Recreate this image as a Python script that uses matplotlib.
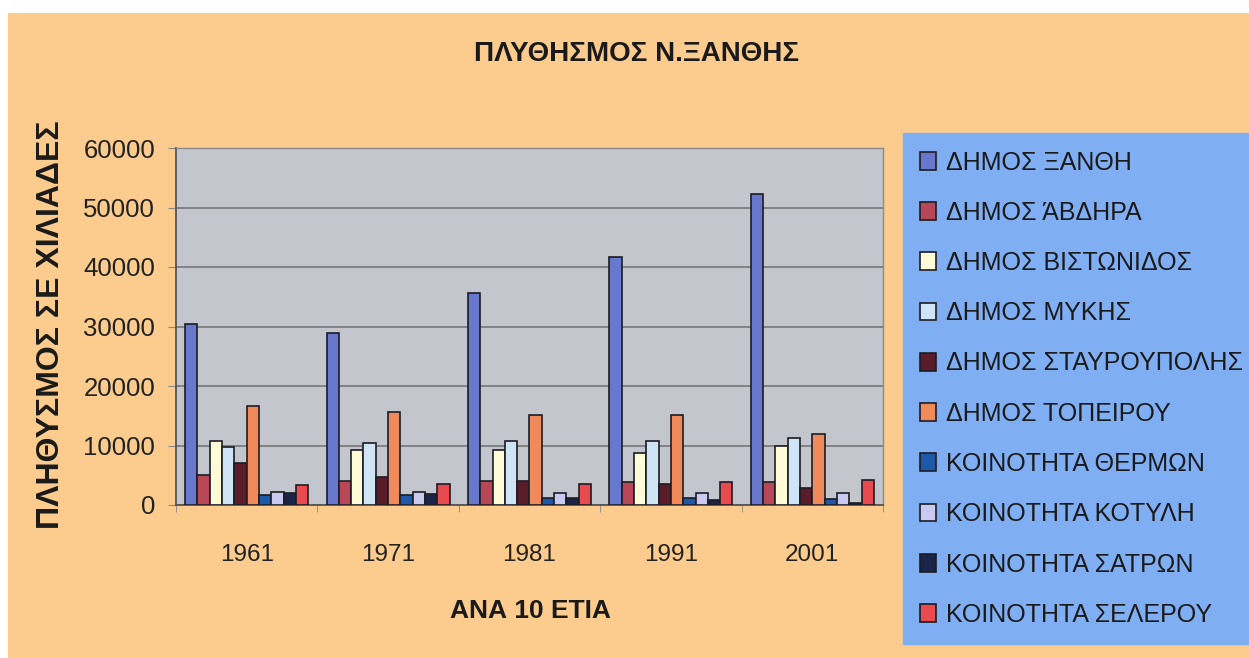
import matplotlib
matplotlib.use("Agg")
import matplotlib.pyplot as plt
import numpy as np
from matplotlib.patches import Rectangle

# ---- data ----
years = ['1961', '1971', '1981', '1991', '2001']
series_names = ['ΔΗΜΟΣ ΞΑΝΘΗ', 'ΔΗΜΟΣ ΆΒΔΗΡΑ', 'ΔΗΜΟΣ ΒΙΣΤΩΝΙΔΟΣ', 'ΔΗΜΟΣ ΜΥΚΗΣ',
                'ΔΗΜΟΣ ΣΤΑΥΡΟΥΠΟΛΗΣ', 'ΔΗΜΟΣ ΤΟΠΕΙΡΟΥ', 'ΚΟΙΝΟΤΗΤΑ ΘΕΡΜΩΝ',
                'ΚΟΙΝΟΤΗΤΑ ΚΟΤΥΛΗ', 'ΚΟΙΝΟΤΗΤΑ ΣΑΤΡΩΝ', 'ΚΟΙΝΟΤΗΤΑ ΣΕΛΕΡΟΥ']
xanthi = [30400, 28900, 35700, 41600, 52200]
avdira = [5000, 4000, 4000, 3900, 3900]
vistonidos = [10800, 9300, 9200, 8800, 10000]
mykis = [9700, 10500, 10800, 10700, 11200]
stavroupolis = [7000, 4700, 4000, 3500, 2800]
topeiros = [16700, 15600, 15100, 15100, 11900]
thermon = [1700, 1700, 1200, 1200, 1000]
kotyli = [2200, 2200, 2100, 2100, 2100]
satron = [2000, 1800, 1200, 800, 300]
selero = [3300, 3500, 3500, 3900, 4200]
yticks = [0, 10000, 20000, 30000, 40000, 50000, 60000]

all_series = [xanthi, avdira, vistonidos, mykis, stavroupolis,
              topeiros, thermon, kotyli, satron, selero]
colors = ['#6878CC', '#B84858', '#FFFBD6', '#CFE5F5', '#5A1C28',
          '#F08A5A', '#1E58A8', '#CACAF0', '#1A2448', '#E84A50']

W, H = 1249, 658
fig = plt.figure(figsize=(W / 100, H / 100), dpi=100, facecolor='white')
fig.patches.append(Rectangle((8 / W, 0), 1, 1 - 13 / H, transform=fig.transFigure,
                             facecolor='#FCCB8E', edgecolor='none', zorder=-10))

fam = ['Liberation Sans', 'DejaVu Sans']

ax = fig.add_axes([176 / W, 1 - 505 / H, (883 - 176) / W, (505 - 148) / H])
ax.set_facecolor('#C3C6CD')

x = np.arange(len(years))
bw = 0.087
n = len(all_series)
for i, (vals, c, name) in enumerate(zip(all_series, colors, series_names)):
    ax.bar(x + (i - (n - 1) / 2) * bw, vals, width=bw, color=c, edgecolor='#1c1c24',
           linewidth=1.2, label=name, zorder=3)

ax.set_xlim(-0.5, len(years) - 0.5)
ax.set_ylim(0, 60000)
ax.set_yticks(yticks)
ax.set_yticklabels([str(v) for v in yticks], fontfamily=fam, fontsize=18.5, color='#222222')
ax.set_xticks(x)
ax.set_xticklabels(years, fontfamily=fam, fontsize=17.5, color='#222222')
ax.set_xticks(np.arange(-0.5, len(years)), minor=True)
ax.tick_params(axis='x', which='major', length=0, pad=28)
ax.tick_params(axis='x', which='minor', length=5, color='#888888', direction='out')
ax.tick_params(axis='y', which='major', length=6, color='#888888', pad=9)
ax.yaxis.grid(True, color='#7C7C80', linewidth=1.3, zorder=1)
ax.set_axisbelow(True)
for s in ['top', 'right']:
    ax.spines[s].set_color('#8A8A8A')
    ax.spines[s].set_linewidth(1.0)
for s in ['left', 'bottom']:
    ax.spines[s].set_color('#555555')
    ax.spines[s].set_linewidth(1.3)

fig.text(637 / W, 1 - 54 / H, 'ΠΛΥΘΗΣΜΟΣ Ν.ΞΑΝΘΗΣ', ha='center', va='center',
         fontsize=20, fontweight='bold', fontfamily=fam, color='#1a1a1a')
fig.text(51 / W, 1 - 325 / H, 'ΠΛΗΘΥΣΜΟΣ ΣΕ ΧΙΛΙΑΔΕΣ', ha='center', va='center',
         rotation=90, fontsize=23, fontweight='bold', fontfamily=fam, color='#1a1a1a')
fig.text(530 / W, 1 - 611 / H, 'ΑΝΑ 10 ΕΤΙΑ', ha='center', va='center',
         fontsize=19, fontweight='bold', fontfamily=fam, color='#1a1a1a')

leg = fig.legend(loc='upper left', bbox_to_anchor=(903 / W, 1 - 133 / H),
                 bbox_transform=fig.transFigure, borderaxespad=0,
                 prop={'family': fam, 'size': 18}, frameon=True, fancybox=False,
                 facecolor='#80AEF3', edgecolor='#80AEF3', framealpha=1,
                 handlelength=0.64, handleheight=0.72, handletextpad=0.4,
                 labelspacing=1.05, borderpad=0.7)
for t in leg.get_texts():
    t.set_color('#1a1a1a')

fig.savefig('out.png', dpi=100, facecolor=fig.get_facecolor())
